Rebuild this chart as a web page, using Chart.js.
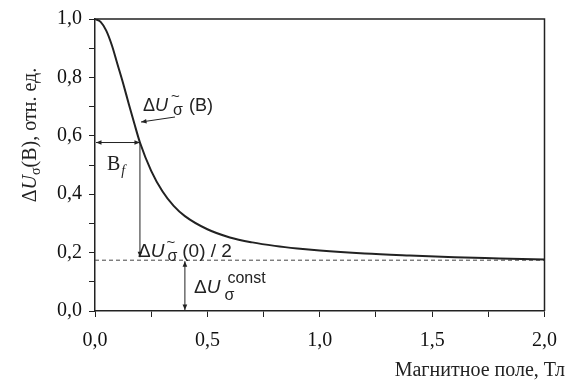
<!DOCTYPE html>
<html>
<head>
<meta charset="utf-8">
<script src="https://cdn.jsdelivr.net/npm/chart.js@4/dist/chart.umd.min.js"></script>
<style>
  html, body { margin: 0; padding: 0; background: #fff; }
  #wrap { width: 569px; height: 387px; }
</style>
</head>
<body>
<div id="wrap"><canvas id="c" width="569" height="387"></canvas></div>
<script>
// магнитное поле, Тл
const fieldB = [0, 0.025, 0.05, 0.075, 0.1, 0.125, 0.15, 0.175, 0.2, 0.25, 0.3, 0.35, 0.4, 0.5, 0.6, 0.7, 0.8, 0.9, 1.0, 1.2, 1.4, 1.6, 1.8, 2.0];
// ΔUσ(B), отн. ед.
const dU = [1.0, 0.99, 0.96, 0.91, 0.845, 0.78, 0.71, 0.642, 0.577, 0.48, 0.41, 0.36, 0.325, 0.28, 0.252, 0.235, 0.223, 0.214, 0.207, 0.197, 0.19, 0.184, 0.18, 0.176];

const constLevel = 0.174;   // ΔUσ const
const halfLevel = 0.577;    // ΔUσ~(0)/2 + const
const Bf = 0.2;
const constArrowB = 0.4;

const xTicks = ['0,0', '0,5', '1,0', '1,5', '2,0'];
const yTicks = ['0,0', '0,2', '0,4', '0,6', '0,8', '1,0'];

const INK = '#222';
const SERIF = '"Liberation Serif", "Times New Roman", serif';
const SANS = '"Liberation Sans", Arial, sans-serif';

function arrowHead(ctx, x, y, ang, size) {
  ctx.beginPath();
  ctx.moveTo(x - size * Math.cos(ang - 0.4), y - size * Math.sin(ang - 0.4));
  ctx.lineTo(x, y);
  ctx.lineTo(x - size * Math.cos(ang + 0.4), y - size * Math.sin(ang + 0.4));
  ctx.closePath();
  ctx.fill();
}

function arrow(ctx, x1, y1, x2, y2, both) {
  ctx.beginPath();
  ctx.moveTo(x1, y1);
  ctx.lineTo(x2, y2);
  ctx.stroke();
  const a = Math.atan2(y2 - y1, x2 - x1);
  arrowHead(ctx, x2, y2, a, 6);
  if (both) arrowHead(ctx, x1, y1, a + Math.PI, 6);
}

// draws pieces of text one after another; each piece: [text, font, dy, dx, noAdvance]
function rich(ctx, x, y, parts) {
  let cx = x;
  for (const p of parts) {
    ctx.font = p[1];
    cx += p[3] || 0;
    ctx.fillText(p[0], cx, y + (p[2] || 0));
    if (!p[4]) cx += ctx.measureText(p[0]).width;
  }
  return cx - x;
}

const extras = {
  id: 'extras',
  afterDatasetsDraw(chart) {
    const ctx = chart.ctx;
    const a = chart.chartArea;
    const xs = chart.scales.x, ys = chart.scales.y;
    ctx.save();
    ctx.strokeStyle = INK;
    ctx.fillStyle = INK;

    // frame top and right
    ctx.lineWidth = 1.5;
    ctx.beginPath();
    ctx.moveTo(a.left, a.top);
    ctx.lineTo(a.right, a.top);
    ctx.lineTo(a.right, a.bottom);
    ctx.stroke();

    ctx.lineWidth = 1;
    const x0 = xs.getPixelForValue(0);
    const xf = xs.getPixelForValue(Bf);
    const yh = ys.getPixelForValue(halfLevel);
    const yc = ys.getPixelForValue(constLevel);
    const y0 = ys.getPixelForValue(0);
    const xc = xs.getPixelForValue(constArrowB);

    // B_f double arrow
    arrow(ctx, x0 + 1, yh, xf, yh, true);
    // drop line to half level
    arrow(ctx, xf, yh, xf, yc - 3, false);
    // constant level double arrow
    arrow(ctx, xc, yc + 1, xc, y0 - 1, true);
    // pointer to the curve
    arrow(ctx, 175, 117, 141, 122, false);

    ctx.textBaseline = 'alphabetic';
    ctx.textAlign = 'left';

    // ΔUσ~(B)
    rich(ctx, 143, 111, [
      ['Δ', '18px ' + SANS],
      ['U', 'italic 18px ' + SANS],
      ['~', '15px ' + SANS, -10, 3, true],
      ['σ', '16px ' + SANS, 4, 2],
      ['(B)', '18px ' + SANS, 0, 6]
    ]);

    // B_f
    rich(ctx, 107, 170, [
      ['B', '20px ' + SERIF],
      ['f', 'italic 14px ' + SERIF, 5, 1]
    ]);

    // ΔUσ~(0) / 2
    rich(ctx, 138, 257, [
      ['Δ', '19px ' + SANS],
      ['U', 'italic 19px ' + SANS],
      ['~', '15px ' + SANS, -10, 2, true],
      ['σ', '16px ' + SANS, 4, 1],
      ['(0) / 2', '19px ' + SANS, 0, 5]
    ]);

    // ΔUσ const
    rich(ctx, 194, 293, [
      ['Δ', '19px ' + SANS],
      ['U', 'italic 19px ' + SANS],
      ['σ', '16px ' + SANS, 7, 4, true],
      ['const', '16px ' + SANS, -10, 3]
    ]);

    // y title
    ctx.save();
    ctx.translate(36, 135);
    ctx.rotate(-Math.PI / 2);
    const yParts = [
      ['Δ', '20px ' + SERIF],
      ['U', 'italic 20px ' + SERIF],
      ['σ', '14px ' + SERIF, 4],
      ['(B), отн. ед.', '20px ' + SERIF]
    ];
    ctx.fillStyle = 'rgba(0,0,0,0)';
    const w = rich(ctx, 0, 0, yParts);
    ctx.fillStyle = INK;
    rich(ctx, -w / 2, 0, yParts);
    ctx.restore();

    // x title
    ctx.font = '20px ' + SERIF;
    ctx.textAlign = 'right';
    ctx.fillText('Магнитное поле, Тл', 565, 376);

    ctx.restore();
  }
};

const curve = fieldB.map((b, i) => ({ x: b, y: dU[i] }));
const constLine = [{ x: 0, y: constLevel }, { x: 2, y: constLevel }];

new Chart(document.getElementById('c'), {
  type: 'line',
  data: {
    datasets: [{
      data: curve,
      borderColor: INK,
      borderWidth: 2,
      pointRadius: 0,
      cubicInterpolationMode: 'monotone',
      fill: false
    }, {
      data: constLine,
      borderColor: '#444',
      borderWidth: 1,
      borderDash: [4, 3],
      pointRadius: 0,
      fill: false
    }]
  },
  options: {
    responsive: false,
    animation: false,
    events: [],
    layout: { padding: { top: 18, right: 20, left: 0, bottom: 0 } },
    plugins: { legend: { display: false }, tooltip: { enabled: false } },
    scales: {
      x: {
        type: 'linear',
        min: 0,
        max: 2,
        afterFit: s => { s.height = 76; },
        border: { display: true, color: INK, width: 1.5 },
        grid: { drawOnChartArea: false, drawTicks: true, tickLength: 6, color: INK },
        ticks: {
          stepSize: 0.25,
          autoSkip: false,
          maxRotation: 0,
          padding: 12,
          color: '#111',
          font: { family: SERIF, size: 20 },
          callback: v => (Math.round(v * 4) % 2 === 0 ? xTicks[Math.round(v * 2)] : '')
        }
      },
      y: {
        min: 0,
        max: 1,
        afterFit: s => { s.width = 95; },
        border: { display: true, color: INK, width: 1.5 },
        grid: { drawOnChartArea: false, drawTicks: true, tickLength: 6, color: INK },
        ticks: {
          stepSize: 0.1,
          autoSkip: false,
          padding: 7,
          color: '#111',
          font: { family: SERIF, size: 20 },
          callback: v => (Math.round(v * 10) % 2 === 0 ? yTicks[Math.round(v * 5)] : '')
        }
      }
    }
  },
  plugins: [extras]
});
</script>
</body>
</html>
